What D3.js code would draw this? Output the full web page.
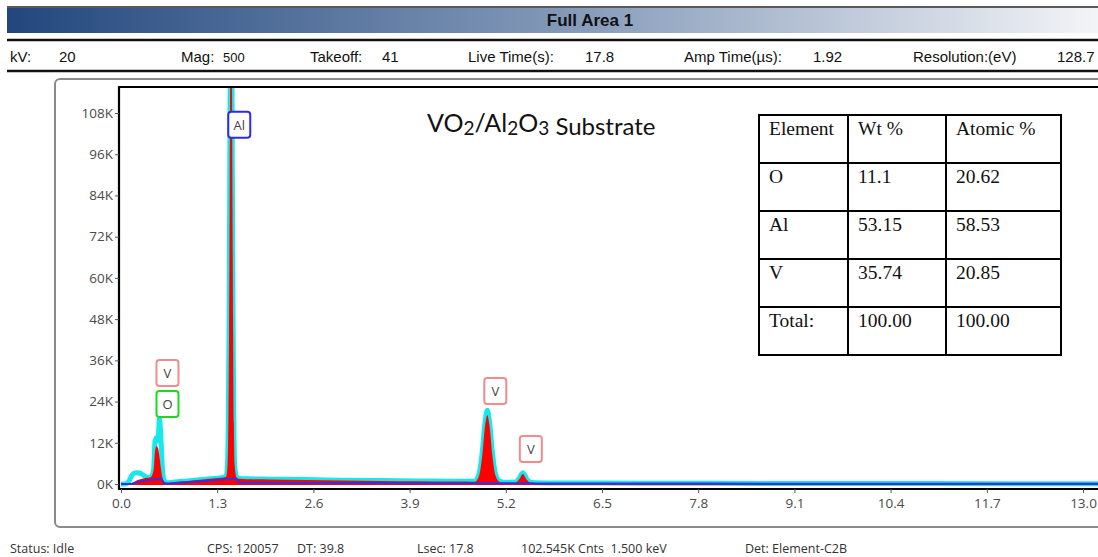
<!DOCTYPE html>
<html>
<head>
<meta charset="utf-8">
<script src="https://cdn.jsdelivr.net/npm/d3@7"></script>
<style>
  body { margin: 0; background: #fff; }
  svg { display: block; }
</style>
</head>
<body>
<div id="chart"></div>
<script>
// ---- data ----
const headerTitle = "Full Area 1";
const acqLabels = ["kV:", "Mag:", "Takeoff:", "Live Time(s):", "Amp Time(\u00b5s):", "Resolution:(eV)"];
const acqValues = ["20", "500", "41", "17.8", "1.92", "128.7"];
const statusItems = ["Status: Idle", "CPS: 120057", "DT: 39.8", "Lsec: 17.8", "102.545K Cnts  1.500 keV", "Det: Element-C2B"];

const xTicks = [0.0, 1.3, 2.6, 3.9, 5.2, 6.5, 7.8, 9.1, 10.4, 11.7, 13.0];
const yTicks = [0, 12000, 24000, 36000, 48000, 60000, 72000, 84000, 96000, 108000];

// energy grid (keV) and counts per series
const energyKeV = [0.00, 0.05, 0.10, 0.15, 0.20, 0.25, 0.30, 0.35, 0.40, 0.44,
  0.46, 0.48, 0.50, 0.52, 0.54, 0.56, 0.58, 0.62, 0.70, 0.80,
  1.00, 1.20, 1.35, 1.42, 1.44, 1.45, 1.46, 1.47, 1.48, 1.487,
  1.495, 1.505, 1.515, 1.525, 1.535, 1.56, 1.60, 1.70, 2.00, 2.50,
  3.00, 3.50, 4.00, 4.50, 4.78, 4.84, 4.88, 4.92, 4.95, 4.98,
  5.02, 5.06, 5.12, 5.20, 5.33, 5.38, 5.43, 5.48, 5.53, 5.60,
  6.00, 7.00, 8.00, 10.0, 12.0, 14.0];
// measured spectrum (cyan)
const measured = [0, 0, 600, 2600, 3300, 3200, 2600, 2000, 1800, 4000,
  12500, 13500, 12500, 19000, 13000, 4500, 1200, 400, 500, 700,
  1100, 1500, 1800, 2200, 6000, 18000, 45000, 90000, 140000, 165000,
  140000, 90000, 45000, 18000, 6000, 2200, 1600, 1500, 1400, 1300,
  1100, 1000, 900, 800, 800, 3000, 9000, 18000, 21500, 18000,
  9000, 3000, 800, 500, 500, 1600, 3300, 1600, 500, 400,
  300, 250, 200, 150, 100, 80];
// fitted spectrum (red fill)
const fitted = [0, 0, 0, 300, 900, 1300, 1600, 1800, 2000, 4000,
  9500, 11000, 10500, 8000, 4500, 1800, 700, 400, 500, 700,
  1100, 1500, 1800, 2100, 5800, 17500, 44000, 89000, 139000, 164000,
  139000, 89000, 44000, 17500, 5800, 2000, 1500, 1400, 1300, 1200,
  1000, 900, 800, 700, 650, 2500, 8000, 17000, 20000, 17000,
  8000, 2500, 600, 400, 400, 1300, 2900, 1300, 400, 300,
  150, 100, 60, 30, 10, 0];
// background (blue line)
const background = [0, 0, 0, 100, 400, 700, 900, 1100, 1200, 1300,
  1350, 1400, 1400, 1450, 1450, 1000, 200, 100, 200, 350,
  700, 1000, 1300, 1400, 1450, 1450, 1500, 1500, 1500, 1500,
  1500, 1500, 1500, 1500, 1500, 1400, 400, 350, 330, 300,
  280, 260, 240, 220, 210, 210, 210, 210, 210, 210,
  210, 200, 200, 200, 200, 200, 200, 200, 190, 180,
  170, 150, 120, 90, 60, 40];

// peak labels
const peakElements = ["V", "O", "Al", "V", "V"];
const peakEnergy = [0.52, 0.52, 1.49, 4.95, 5.43];
const peakLabelLevel = [28500, 19500, 100800, 23300, 6400];

// quantification table
const tableHeader = ["Element", "Wt %", "Atomic %"];
const tableElements = ["O", "Al", "V", "Total:"];
const wtPercent = ["11.1", "53.15", "35.74", "100.00"];
const atomicPercent = ["20.62", "58.53", "20.85", "100.00"];

// ---- drawing ----
const W = 1098, H = 557;
const svg = d3.select("#chart").append("svg").attr("width", W).attr("height", H);

// header gradient bar
const defs = svg.append("defs");
const grad = defs.append("linearGradient").attr("id", "hdr").attr("x1", "0%").attr("x2", "100%");
grad.append("stop").attr("offset", "0%").attr("stop-color", "#22477d");
grad.append("stop").attr("offset", "50%").attr("stop-color", "#8197b7");
grad.append("stop").attr("offset", "100%").attr("stop-color", "#f3f4f7");

svg.append("line").attr("x1", 7).attr("x2", W).attr("y1", 7).attr("y2", 7).attr("stroke", "#222").attr("stroke-width", 1.5);
svg.append("rect").attr("x", 7).attr("y", 8).attr("width", W - 7).attr("height", 25).attr("fill", "url(#hdr)");
svg.append("text").attr("x", 590).attr("y", 26).attr("text-anchor", "middle")
  .style("font", "bold 17px 'Liberation Sans', Arial, sans-serif").attr("fill", "#111").text(headerTitle);

svg.append("line").attr("x1", 7).attr("x2", W).attr("y1", 40).attr("y2", 40).attr("stroke", "#111").attr("stroke-width", 2.5);
svg.append("line").attr("x1", 7).attr("x2", W).attr("y1", 71).attr("y2", 71).attr("stroke", "#111").attr("stroke-width", 2.5);

const acqLabelX = [10, 181, 310, 468, 684, 913];
const acqValueX = [59, 223, 382, 585, 813, 1057];
const acq = svg.append("g").style("font", "15px 'Liberation Sans', Arial, sans-serif").attr("fill", "#111");
acqLabels.forEach((t, i) => {
  acq.append("text").attr("x", acqLabelX[i]).attr("y", 62).text(t);
  acq.append("text").attr("x", acqValueX[i]).attr("y", 62)
    .style("font-size", i === 1 ? "13px" : null).text(acqValues[i]);
});

// outer panel
svg.append("rect").attr("x", 55).attr("y", 79).attr("width", 1100).attr("height", 448)
  .attr("rx", 5).attr("fill", "none").attr("stroke", "#8a8a8a").attr("stroke-width", 2);

// plot area
const plot = { left: 119, top: 87, right: 1130, bottom: 489 };
const x = d3.scaleLinear().domain([0, 13]).range([121, 1083]);
const y = d3.scaleLinear().domain([0, 108000]).range([484, 113]);

defs.append("clipPath").attr("id", "clip").append("rect")
  .attr("x", plot.left).attr("y", plot.top)
  .attr("width", plot.right - plot.left).attr("height", plot.bottom - plot.top);

const pts = energyKeV.map((e, i) => ({ e, m: measured[i], f: fitted[i], b: background[i] }));
const g = svg.append("g").attr("clip-path", "url(#clip)");

// measured envelope (thick cyan), fit filled red over it, background in blue
g.append("path").datum(pts)
  .attr("d", d3.line().x(d => x(d.e)).y(d => y(d.m)).curve(d3.curveMonotoneX))
  .attr("fill", "none").attr("stroke", "#16e8ec").attr("stroke-width", 5).attr("stroke-linejoin", "round");
g.append("path").datum(pts)
  .attr("d", d3.area().x(d => x(d.e)).y0(y(0) + 1).y1(d => y(d.f)).curve(d3.curveMonotoneX))
  .attr("fill", "#ff0000");
g.append("path").datum(pts)
  .attr("d", d3.line().x(d => x(d.e)).y(d => y(d.b)).curve(d3.curveMonotoneX))
  .attr("fill", "none").attr("stroke", "#3a2ee0").attr("stroke-width", 2);

// frame lines (left, top, bottom)
svg.append("path")
  .attr("d", `M${plot.right},${plot.top}H${plot.left}V${plot.bottom}H${plot.right}`)
  .attr("fill", "none").attr("stroke", "#000").attr("stroke-width", 2.2);

// axes
const tickFont = "13.5px 'Open Sans', 'DejaVu Sans', sans-serif";
const xAxis = svg.append("g").attr("transform", `translate(0,${plot.bottom})`)
  .call(d3.axisBottom(x).tickValues(xTicks).tickFormat(d3.format(".1f")).tickSize(4).tickPadding(5));
const yAxis = svg.append("g").attr("transform", `translate(${plot.left},0)`)
  .call(d3.axisLeft(y).tickValues(yTicks).tickFormat(d => d / 1000 + "K").tickSize(4).tickPadding(2));
[xAxis, yAxis].forEach(a => {
  a.select(".domain").remove();
  a.selectAll("line").attr("stroke", "#555");
  a.selectAll("text").style("font", tickFont).attr("fill", "#4a4a4a");
});

// peak labels
const labelColor = { V: "#f28b8b", O: "#1ed81e", Al: "#2a2af2" };
peakElements.forEach((el, i) => {
  const bx = x(peakEnergy[i]) - 3, by = y(peakLabelLevel[i]) - 26;
  svg.append("rect").attr("x", bx).attr("y", by).attr("width", 22).attr("height", 26).attr("rx", 3)
    .attr("fill", "#fff").attr("stroke", labelColor[el]).attr("stroke-width", 2);
  svg.append("text").attr("x", bx + 11).attr("y", by + 18).attr("text-anchor", "middle")
    .style("font", "13px 'Open Sans', 'DejaVu Sans', sans-serif").attr("fill", "#444").text(el);
});

// annotation
const ann = svg.append("text").attr("x", 427).attr("y", 132)
  .style("font-family", "Lato, 'Open Sans', sans-serif").style("font-size", "25px").attr("fill", "#111");
[["VO", 0], ["2", 1], ["/Al", 0], ["2", 1], ["O", 0], ["3", 1], [" Substrate", 1]].forEach(([t, sub]) => {
  ann.append("tspan").style("font-size", sub ? (t.length === 1 ? "19px" : "24px") : null)
    .attr("baseline-shift", sub ? "-3" : null).text(t);
});

// table
const colX = [759, 848, 946, 1061];
const rowY = [115, 163, 211, 259, 307, 355];
const tbl = svg.append("g");
colX.forEach(cx => tbl.append("line").attr("x1", cx).attr("x2", cx).attr("y1", rowY[0]).attr("y2", rowY[5]).attr("stroke", "#000").attr("stroke-width", 2));
rowY.forEach(ry => tbl.append("line").attr("x1", colX[0] - 1).attr("x2", colX[3] + 1).attr("y1", ry).attr("y2", ry).attr("stroke", "#000").attr("stroke-width", 2));
const rows = [tableHeader].concat(tableElements.map((e, i) => [e, wtPercent[i], atomicPercent[i]]));
rows.forEach((r, ri) => r.forEach((t, ci) => {
  tbl.append("text").attr("x", colX[ci] + 10).attr("y", rowY[ri] + 20)
    .style("font", "19.5px 'Liberation Serif', 'Times New Roman', serif").attr("fill", "#111").text(t);
}));

// status bar
const statusX = [10, 207, 297, 417, 521, 745];
statusItems.forEach((t, i) => {
  svg.append("text").attr("x", statusX[i]).attr("y", 553).attr("xml:space", "preserve")
    .style("font", "12.5px 'Open Sans', 'DejaVu Sans', sans-serif").attr("fill", "#333").text(t);
});
</script>
</body>
</html>
